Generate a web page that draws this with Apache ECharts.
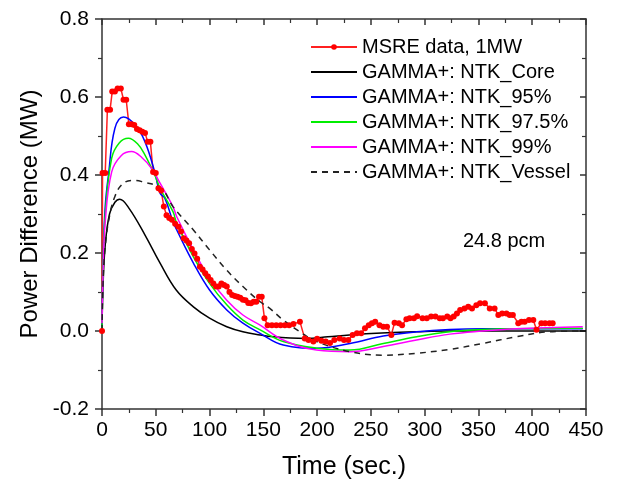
<!DOCTYPE html>
<html>
<head>
<meta charset="utf-8">
<script src="https://cdn.jsdelivr.net/npm/echarts@6/dist/echarts.min.js"></script>
<style>
  html, body { margin: 0; padding: 0; background: #fff; }
  #main { width: 622px; height: 485px; }
</style>
</head>
<body>
<div id="main"></div>
<script>
// series names, in legend order
var seriesNames = ['MSRE data, 1MW', 'GAMMA+: NTK_Core', 'GAMMA+: NTK_95%', 'GAMMA+: NTK_97.5%', 'GAMMA+: NTK_99%', 'GAMMA+: NTK_Vessel'];

// measured power difference [time (s), MW]
var msreData = [
  [0, 0], [0.5, 0.405], [3, 0.405], [5, 0.567], [7.5, 0.567], [9.5, 0.614], [12, 0.614],
  [14.5, 0.622], [17.5, 0.622], [20, 0.593], [22.5, 0.593], [25, 0.53], [27.5, 0.53], [30, 0.528],
  [32.5, 0.518], [35, 0.515], [37.5, 0.511], [40, 0.508], [42.5, 0.485], [45, 0.485],
  [47.5, 0.408], [50, 0.405], [52.5, 0.366], [55, 0.36], [57.5, 0.319], [60, 0.297], [62.5, 0.29],
  [65, 0.285], [68, 0.275], [71, 0.267], [73.5, 0.255], [76, 0.238], [78.5, 0.232], [81, 0.225],
  [83.5, 0.21], [86, 0.199], [88.5, 0.185], [91, 0.165], [93.5, 0.158], [96, 0.148], [98.5, 0.14],
  [101, 0.131], [103.5, 0.122], [106, 0.114], [108.5, 0.114], [111, 0.122], [113.5, 0.118],
  [116, 0.114], [118.5, 0.1], [121, 0.092], [123.5, 0.09], [126, 0.088], [128.5, 0.085],
  [131, 0.08], [133.5, 0.079], [136, 0.072], [138.5, 0.071], [141, 0.075], [143.5, 0.075],
  [146, 0.088], [148.5, 0.088], [151, 0.033], [154, 0.015], [158, 0.015], [162, 0.015],
  [166, 0.015], [170, 0.015], [174, 0.015], [178, 0.018], [184, 0.024], [188.5, -0.019],
  [192, -0.023], [196.5, -0.027], [200, -0.02], [204, -0.025], [208, -0.027], [212, -0.031],
  [216, -0.023], [221, -0.019], [225, -0.023], [229, -0.023], [233, -0.01], [237, -0.006],
  [241, -0.006], [244.5, 0.007], [248, 0.015], [251, 0.02], [254, 0.024], [258, 0.015],
  [261.5, 0.011], [265, 0.011], [269, -0.01], [272, 0.021], [276, 0.02], [279, 0.015],
  [283, 0.03], [286, 0.033], [290, 0.033], [293, 0.038], [298, 0.033], [302, 0.033],
  [306, 0.037], [310, 0.037], [314, 0.033], [317, 0.033], [321, 0.037], [324, 0.033],
  [327, 0.037], [330, 0.045], [333, 0.054], [337, 0.058], [340.5, 0.062], [344, 0.058],
  [348, 0.066], [351.5, 0.071], [356, 0.071], [360.5, 0.058], [365, 0.058], [368.5, 0.041],
  [372, 0.045], [376, 0.045], [379, 0.041], [382, 0.041], [387, 0.02], [390, 0.024],
  [393, 0.024], [397, 0.028], [401, 0.028], [404, 0.003], [408.5, 0.02], [412, 0.02],
  [416, 0.02], [419, 0.02]
];

// GAMMA+ results [time (s), MW]
var coreData = [
  [0, 0], [1, 0.12], [3, 0.22], [7, 0.3], [12, 0.33], [16.5, 0.338], [25, 0.315], [40, 0.246],
  [54, 0.174], [69, 0.105], [85, 0.062], [100, 0.033], [116, 0.011], [131, -0.002],
  [147, -0.01], [160, -0.015], [175, -0.018], [190, -0.019], [210, -0.015], [230, -0.01],
  [260, -0.005], [292, -0.002], [320, 0], [354, 0], [400, 0], [450, 0]
];
var ntk95Data = [
  [0, 0], [1, 0.18], [3, 0.32], [6, 0.40], [12, 0.52], [20, 0.549], [31, 0.528], [40, 0.485],
  [49, 0.408], [54, 0.353], [58.5, 0.34], [66, 0.28], [69.5, 0.259], [85, 0.174], [100, 0.105],
  [116, 0.054], [131, 0.02], [147, -0.006], [168.5, -0.036], [199.5, -0.044], [230.5, -0.032],
  [261.5, -0.013], [292.5, -0.002], [323.5, 0.004], [354, 0.006], [385, 0.006], [447, 0.006]
];
var ntk975Data = [
  [0, 0], [1, 0.17], [3, 0.30], [9, 0.443], [16, 0.482], [24.5, 0.494], [33, 0.48],
  [40, 0.451], [49, 0.40], [54, 0.366], [66, 0.306], [69.5, 0.276], [85, 0.19], [100, 0.122],
  [116, 0.067], [131, 0.028], [147, 0.003], [168.5, -0.027], [199.5, -0.044], [230.5, -0.049],
  [261.5, -0.032], [292.5, -0.015], [323.5, -0.002], [354, 0.004], [385, 0.006], [447, 0.007]
];
var ntk99Data = [
  [0, 0.02], [1, 0.15], [3, 0.28], [9, 0.408], [18, 0.45], [27.5, 0.46], [37, 0.445],
  [46, 0.417], [54, 0.379], [66, 0.319], [69.5, 0.293], [85, 0.208], [100, 0.135], [116, 0.079],
  [131, 0.041], [147, 0.015], [168.5, -0.023], [199.5, -0.049], [230.5, -0.053],
  [261.5, -0.04], [292.5, -0.023], [323.5, -0.008], [354, 0], [385, 0.006], [447, 0.011]
];
var vesselData = [
  [0, 0], [1.2, 0.14], [2.8, 0.21], [6, 0.28], [12, 0.345], [20, 0.379], [30, 0.386],
  [37, 0.383], [55, 0.366], [66, 0.319], [85, 0.259], [100, 0.208], [116, 0.156], [131, 0.114],
  [147, 0.075], [156, 0.058], [168.5, 0.028], [184, -0.002], [199.5, -0.027], [230.5, -0.053],
  [261.5, -0.062], [292.5, -0.057], [323.5, -0.047], [354, -0.032], [385, -0.015],
  [416, -0.002], [447, 0]
];

var font = 'Liberation Sans, Arial, sans-serif';
var axisColor = '#333';

var chart = echarts.init(document.getElementById('main'));

function modelLine(name, data, color, type) {
  return {
    name: name,
    type: 'line',
    data: data,
    smooth: 0.4,
    symbol: 'none',
    lineStyle: { color: color, width: 1.5, type: type || 'solid' },
    itemStyle: { color: color },
    animation: false
  };
}

// legend: only the measured data keeps a dot on its line
var legendData = seriesNames.map(function (n, i) {
  return i === 0 ? { name: n } : { name: n, itemStyle: { opacity: 0 } };
});

chart.setOption({
  backgroundColor: '#fff',
  animation: false,
  grid: { left: 102, top: 19, right: 36, bottom: 76 },
  legend: {
    orient: 'vertical',
    left: 305,
    top: 32,
    itemWidth: 46,
    itemHeight: 7,
    itemGap: 5,
    data: legendData,
    textStyle: { fontFamily: font, fontSize: 20, color: '#000' }
  },
  xAxis: [
    {
      type: 'value', min: 0, max: 450, interval: 50,
      name: 'Time (sec.)', nameLocation: 'middle', nameGap: 46,
      nameTextStyle: { fontFamily: font, fontSize: 25, color: '#000' },
      axisLine: { show: true, onZero: false, lineStyle: { color: axisColor, width: 1.5 } },
      axisTick: { show: true, inside: false, length: 7, lineStyle: { color: axisColor, width: 1.5 } },
      minorTick: { show: true, splitNumber: 2, length: 4, lineStyle: { color: axisColor, width: 1.2 } },
      axisLabel: { fontFamily: font, fontSize: 21, color: '#000', margin: 11 },
      splitLine: { show: false }
    },
    {
      type: 'value', min: 0, max: 450, interval: 50, position: 'top',
      axisLine: { show: true, onZero: false, lineStyle: { color: axisColor, width: 1.5 } },
      axisTick: { show: true, inside: true, length: 6, lineStyle: { color: axisColor, width: 1.5 } },
      minorTick: { show: true, splitNumber: 2, length: 4, lineStyle: { color: axisColor, width: 1.2 } },
      axisLabel: { show: false },
      splitLine: { show: false }
    }
  ],
  yAxis: [
    {
      type: 'value', min: -0.2, max: 0.8, interval: 0.2,
      name: 'Power Difference (MW)', nameLocation: 'middle', nameGap: 58,
      nameTextStyle: { fontFamily: font, fontSize: 24, color: '#000' },
      axisLine: { show: true, onZero: false, lineStyle: { color: axisColor, width: 1.5 } },
      axisTick: { show: true, inside: false, length: 7, lineStyle: { color: axisColor, width: 1.5 } },
      minorTick: { show: true, splitNumber: 2, length: 4, lineStyle: { color: axisColor, width: 1.2 } },
      axisLabel: {
        fontFamily: font, fontSize: 21, color: '#000', margin: 13,
        formatter: function (v) { return v.toFixed(1); }
      },
      splitLine: { show: false }
    },
    {
      type: 'value', min: -0.2, max: 0.8, interval: 0.2, position: 'right',
      axisLine: { show: true, onZero: false, lineStyle: { color: axisColor, width: 1.5 } },
      axisTick: { show: true, inside: true, length: 6, lineStyle: { color: axisColor, width: 1.5 } },
      minorTick: { show: true, splitNumber: 2, length: 4, lineStyle: { color: axisColor, width: 1.2 } },
      axisLabel: { show: false },
      splitLine: { show: false }
    }
  ],
  graphic: [
    {
      type: 'text', left: 463, top: 231,
      style: { text: '24.8 pcm', fontFamily: font, fontSize: 20, fill: '#000' }
    }
  ],
  series: [
    {
      name: seriesNames[0],
      type: 'line',
      data: msreData,
      symbol: 'circle',
      symbolSize: 6,
      showAllSymbol: true,
      lineStyle: { color: '#ff2020', width: 1.5 },
      itemStyle: { color: '#ff0000' },
      animation: false
    },
    modelLine(seriesNames[1], coreData, '#000000'),
    modelLine(seriesNames[2], ntk95Data, '#0000ff'),
    modelLine(seriesNames[3], ntk975Data, '#00ee00'),
    modelLine(seriesNames[4], ntk99Data, '#ff00ff'),
    modelLine(seriesNames[5], vesselData, '#222222', [6, 5])
  ]
});
</script>
</body>
</html>
